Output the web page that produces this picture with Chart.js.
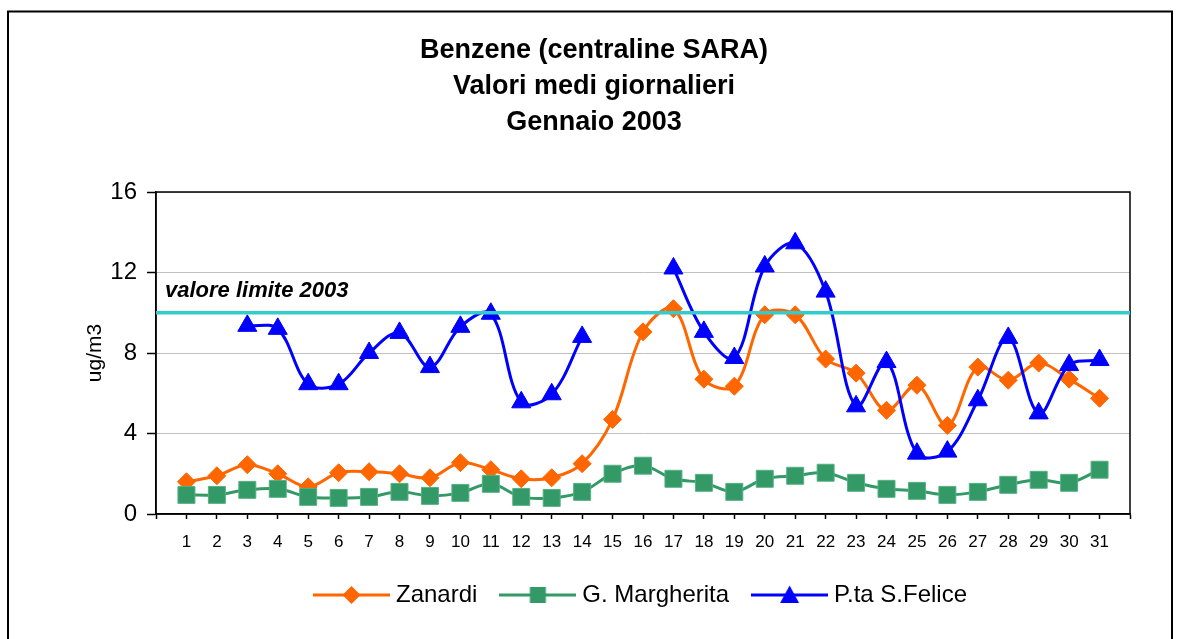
<!DOCTYPE html>
<html>
<head>
<meta charset="utf-8">
<script src="https://cdn.jsdelivr.net/npm/chart.js@4/dist/chart.umd.min.js"></script>
<style>
html,body{margin:0;padding:0;background:#fff;overflow:hidden}
#wrap{width:1180px;height:639px;position:relative}
</style>
</head>
<body>
<div id="wrap"><canvas id="c" width="1180" height="639"></canvas></div>
<script>
// ---- data ----
const titleLines = ['Benzene (centraline SARA)', 'Valori medi giornalieri', 'Gennaio 2003'];
const days = [1,2,3,4,5,6,7,8,9,10,11,12,13,14,15,16,17,18,19,20,21,22,23,24,25,26,27,28,29,30,31];
const seriesNames = ['Zanardi', 'G. Margherita', 'P.ta S.Felice'];
const zanardi = [1.6,1.9,2.45,2.0,1.35,2.05,2.1,2.0,1.8,2.55,2.2,1.75,1.8,2.5,4.7,9.05,10.2,6.7,6.35,9.9,9.9,7.7,7.0,5.15,6.4,4.4,7.3,6.65,7.5,6.7,5.75];
const margherita = [0.95,0.95,1.2,1.25,0.85,0.8,0.85,1.1,0.9,1.05,1.5,0.85,0.8,1.1,2.0,2.4,1.75,1.55,1.1,1.75,1.9,2.05,1.55,1.25,1.15,0.95,1.1,1.45,1.7,1.55,2.2];
const sfelice = [null,null,9.35,9.2,6.45,6.45,8.0,9.0,7.3,9.3,9.95,5.55,5.95,8.8,null,null,12.2,9.05,7.75,12.3,13.45,11.05,5.35,7.55,3.0,3.1,5.65,8.75,5.0,7.4,7.65];
const limitValue = 10;
const limitLabel = 'valore limite 2003';
const yAxisTitle = 'ug/m3';
const yMin = 0, yMax = 16, yStep = 4;
const xMin = 0, xMax = 32;

// ---- styles ----
const FONT = "'Liberation Sans', Arial, sans-serif";
const cOrange = '#FF6600', cGreen = '#339966', cBlue = '#0000FF', cCyan = '#33CCCC';

function toPts(arr) { return days.map((d, i) => ({x: d, y: arr[i]})); }

function icon(color, shape) {
  const c = document.createElement('canvas');
  c.width = 77; c.height = 22;
  const g = c.getContext('2d');
  g.strokeStyle = color; g.lineWidth = 3;
  g.beginPath(); g.moveTo(0, 11); g.lineTo(77, 11); g.stroke();
  g.fillStyle = color; g.beginPath();
  const cx = 38.5, cy = 11;
  if (shape === 'diamond') { g.moveTo(cx, cy - 9); g.lineTo(cx + 9, cy); g.lineTo(cx, cy + 9); g.lineTo(cx - 9, cy); }
  else if (shape === 'square') { g.rect(cx - 8, cy - 8, 16, 16); }
  else { g.moveTo(cx, cy - 9.5); g.lineTo(cx + 9.5, cy + 8); g.lineTo(cx - 9.5, cy + 8); }
  g.closePath(); g.fill();
  return c;
}
const legendIcons = [icon(cOrange, 'diamond'), icon(cGreen, 'square'), icon(cBlue, 'triangle')];

const decor = {
  id: 'decor',
  afterLayout(chart) {
    const a = chart.chartArea;
    const L = chart.legend;
    if (L) { L.left = a.left; L.right = a.right; }
    const T = chart.titleBlock;
    if (T) { T.left = 8; T.right = chart.width; }
  },
  beforeDraw(chart) {
    const ctx = chart.ctx;
    ctx.save();
    ctx.fillStyle = '#fff';
    ctx.fillRect(0, 0, chart.width, chart.height);
    ctx.strokeStyle = '#000';
    ctx.lineWidth = 2;
    ctx.strokeRect(8, 11.5, 1164, 700);
    ctx.restore();
  },
  beforeDatasetsDraw(chart) {
    const a = chart.chartArea, ctx = chart.ctx;
    ctx.save();
    ctx.strokeStyle = '#000';
    ctx.lineWidth = 1.5;
    ctx.strokeRect(a.left, a.top, a.right - a.left, a.bottom - a.top);
    ctx.restore();
  },
  afterDatasetsDraw(chart) {
    const ctx = chart.ctx, xs = chart.scales.x, ys = chart.scales.y;
    ctx.save();
    ctx.font = "italic bold 22px " + FONT;
    ctx.fillStyle = '#000';
    ctx.textBaseline = 'alphabetic';
    ctx.textAlign = 'left';
    ctx.fillText(limitLabel, xs.getPixelForValue(xMin) + 9, ys.getPixelForValue(limitValue) - 16);
    ctx.restore();
  }
};

const lineBase = {borderWidth: 3, tension: 0.35, spanGaps: false, pointBorderWidth: 1};

new Chart(document.getElementById('c'), {
  type: 'line',
  data: {
    datasets: [
      Object.assign({}, lineBase, {label: seriesNames[0], data: toPts(zanardi), borderColor: cOrange, backgroundColor: cOrange,
        pointStyle: 'rectRot', pointRadius: 9, pointBackgroundColor: cOrange, pointBorderColor: cOrange, order: 3}),
      Object.assign({}, lineBase, {label: seriesNames[1], data: toPts(margherita), borderColor: cGreen, backgroundColor: cGreen,
        pointStyle: 'rect', pointRadius: 12, pointBackgroundColor: cGreen, pointBorderColor: '#55B083', order: 2}),
      Object.assign({}, lineBase, {label: seriesNames[2], data: toPts(sfelice), borderColor: cBlue, backgroundColor: cBlue,
        pointStyle: 'triangle', pointRadius: 11, pointBackgroundColor: cBlue, pointBorderColor: cBlue, order: 1}),
      {label: 'limit', data: [{x: xMin, y: limitValue}, {x: xMax, y: limitValue}], borderColor: cCyan, borderWidth: 3.5,
        pointRadius: 0, tension: 0, order: 0}
    ]
  },
  options: {
    responsive: false,
    animation: false,
    devicePixelRatio: 1,
    layout: {padding: {left: 8, right: 50, top: 11, bottom: 22}},
    plugins: {
      title: {
        display: true, text: titleLines, color: '#000',
        font: {family: FONT, size: 27, weight: 'bold', lineHeight: 36 / 27},
        padding: {top: 22, bottom: 51}
      },
      legend: {
        position: 'bottom',
        labels: {
          usePointStyle: true, pointStyleWidth: 65, padding: 28, color: '#000',
          font: {family: FONT, size: 24},
          sort: (a, b) => a.datasetIndex - b.datasetIndex,
          generateLabels(chart) {
            const items = Chart.defaults.plugins.legend.labels.generateLabels(chart);
            return items.filter(it => it.datasetIndex < 3).map(it => Object.assign(it, {pointStyle: legendIcons[it.datasetIndex]}));
          }
        }
      },
      tooltip: {enabled: false}
    },
    scales: {
      x: {
        type: 'linear', min: xMin, max: xMax,
        afterFit(s) { s.height = 41; },
        ticks: {
          stepSize: 1, autoSkip: false, maxRotation: 0, maxTicksLimit: 100, padding: 13, color: '#000',
          font: {family: FONT, size: 17},
          callback: v => (v >= days[0] && v <= days[days.length - 1]) ? String(v) : ''
        },
        grid: {drawOnChartArea: false, tickLength: 5, tickColor: '#000', tickWidth: 1.5},
        border: {color: '#000', width: 1.5}
      },
      y: {
        min: yMin, max: yMax,
        afterFit(s) { s.width = 148; },
        ticks: {stepSize: yStep, padding: 10, color: '#000', font: {family: FONT, size: 24}},
        grid: {color: '#C0C0C0', lineWidth: 1, tickLength: 9, tickColor: '#000', tickWidth: 1.5},
        border: {color: '#000', width: 1.5},
        title: {display: true, text: yAxisTitle, color: '#000', font: {family: FONT, size: 21}, padding: {top: 75, bottom: 0}}
      }
    }
  },
  plugins: [decor]
});
</script>
</body>
</html>
